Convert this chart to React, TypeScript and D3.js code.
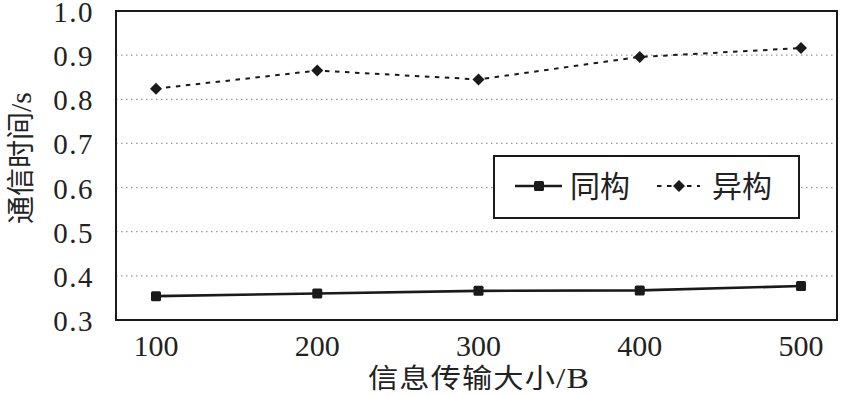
import React from "react";
import * as d3 from "d3";

const sizes = [100, 200, 300, 400, 500];
const homo = [0.354, 0.36, 0.366, 0.367, 0.377];
const hetero = [0.824, 0.865, 0.845, 0.896, 0.916];
const yTicks = [0.3, 0.4, 0.5, 0.6, 0.7, 0.8, 0.9, 1.0];
const seriesNames = ["同构", "异构"];
const xTitleCjk = "信息传输大小";
const xTitleUnit = "/B";
const yTitleCjk = "通信时间";
const yTitleUnit = "/s";

const W = 842;
const H = 396;
const L = 116, R = 837, T = 11, B = 320;

export default function App() {
  const x = d3.scaleLinear().domain([100, 500]).range([156, 801]);
  const y = d3.scaleLinear().domain([0.3, 1.0]).range([B, T]);
  const line = d3
    .line<number>()
    .x((_, i) => x(sizes[i]))
    .y((d) => y(d));
  const serif = "Liberation Serif, Times New Roman, DejaVu Serif, serif";
  const cjk = "Noto Sans CJK SC, sans-serif";
  const diamond = (cx: number, cy: number, r: number) =>
    `M${cx},${cy - r}L${cx + r},${cy}L${cx},${cy + r}L${cx - r},${cy}Z`;

  return (
    <svg
      width={W}
      height={H}
      style={{ position: "absolute", left: 0, top: 0, background: "#fff" }}
    >
      {/* gridlines */}
      {yTicks
        .filter((t) => t > 0.3 && t < 1.0)
        .map((t) => (
          <line
            key={t}
            x1={L}
            x2={R}
            y1={y(t)}
            y2={y(t)}
            stroke="#999"
            strokeWidth={1.3}
            strokeDasharray="1.5,3.5"
          />
        ))}
      {/* frame */}
      <rect x={L} y={T} width={R - L} height={B - T} fill="none" stroke="#1a1a1a" strokeWidth={2} />

      {/* y tick labels */}
      {yTicks.map((t) => (
        <text
          key={t}
          x={94}
          y={y(t) + 11}
          textAnchor="end"
          style={{ fontFamily: serif, fontSize: 29, letterSpacing: 1.5 }}
          fill="#222"
        >
          {t.toFixed(1)}
        </text>
      ))}
      {/* x tick labels */}
      {sizes.map((s) => (
        <text
          key={s}
          x={x(s)}
          y={356}
          textAnchor="middle"
          style={{ fontFamily: serif, fontSize: 30 }}
          fill="#222"
        >
          {s}
        </text>
      ))}

      {/* axis titles */}
      <g transform="translate(479,388) scale(1.12,1)">
        <text x={0} y={0} textAnchor="middle" fill="#222" style={{ fontSize: 27, letterSpacing: 1 }}>
          <tspan style={{ fontFamily: cjk }}>{xTitleCjk}</tspan>
          <tspan style={{ fontFamily: serif, fontSize: 30 }}>{xTitleUnit}</tspan>
        </text>
      </g>
      <text
        transform={`translate(31,158) rotate(-90)`}
        textAnchor="middle"
        fill="#222"
        style={{ fontSize: 28 }}
      >
        <tspan style={{ fontFamily: cjk }}>{yTitleCjk}</tspan>
        <tspan style={{ fontFamily: serif, fontSize: 30 }}>{yTitleUnit}</tspan>
      </text>

      {/* hetero series */}
      <path
        d={line(hetero) || ""}
        fill="none"
        stroke="#1a1a1a"
        strokeWidth={2}
        strokeDasharray="4.5,5.5"
      />
      {hetero.map((v, i) => (
        <path key={i} d={diamond(x(sizes[i]), y(v), 6)} fill="#1a1a1a" />
      ))}

      {/* homo series */}
      <path d={line(homo) || ""} fill="none" stroke="#1a1a1a" strokeWidth={2.6} />
      {homo.map((v, i) => (
        <rect
          key={i}
          x={x(sizes[i]) - 5}
          y={y(v) - 5}
          width={10}
          height={10}
          rx={1.5}
          fill="#1a1a1a"
        />
      ))}

      {/* legend */}
      <rect x={494} y={156} width={305} height={62} fill="#fff" stroke="#1a1a1a" strokeWidth={2} />
      <line x1={515} x2={562} y1={186} y2={186} stroke="#1a1a1a" strokeWidth={2.6} />
      <rect x={534} y={181} width={10} height={10} rx={1.5} fill="#1a1a1a" />
      <text x={570} y={197} style={{ fontFamily: cjk, fontSize: 30 }} fill="#222">
        {seriesNames[0]}
      </text>
      <line
        x1={657}
        x2={700}
        y1={186}
        y2={186}
        stroke="#1a1a1a"
        strokeWidth={2}
        strokeDasharray="4.5,5.5"
      />
      <path d={diamond(679, 186, 6)} fill="#1a1a1a" />
      <text x={712} y={197} style={{ fontFamily: cjk, fontSize: 30 }} fill="#222">
        {seriesNames[1]}
      </text>
    </svg>
  );
}
